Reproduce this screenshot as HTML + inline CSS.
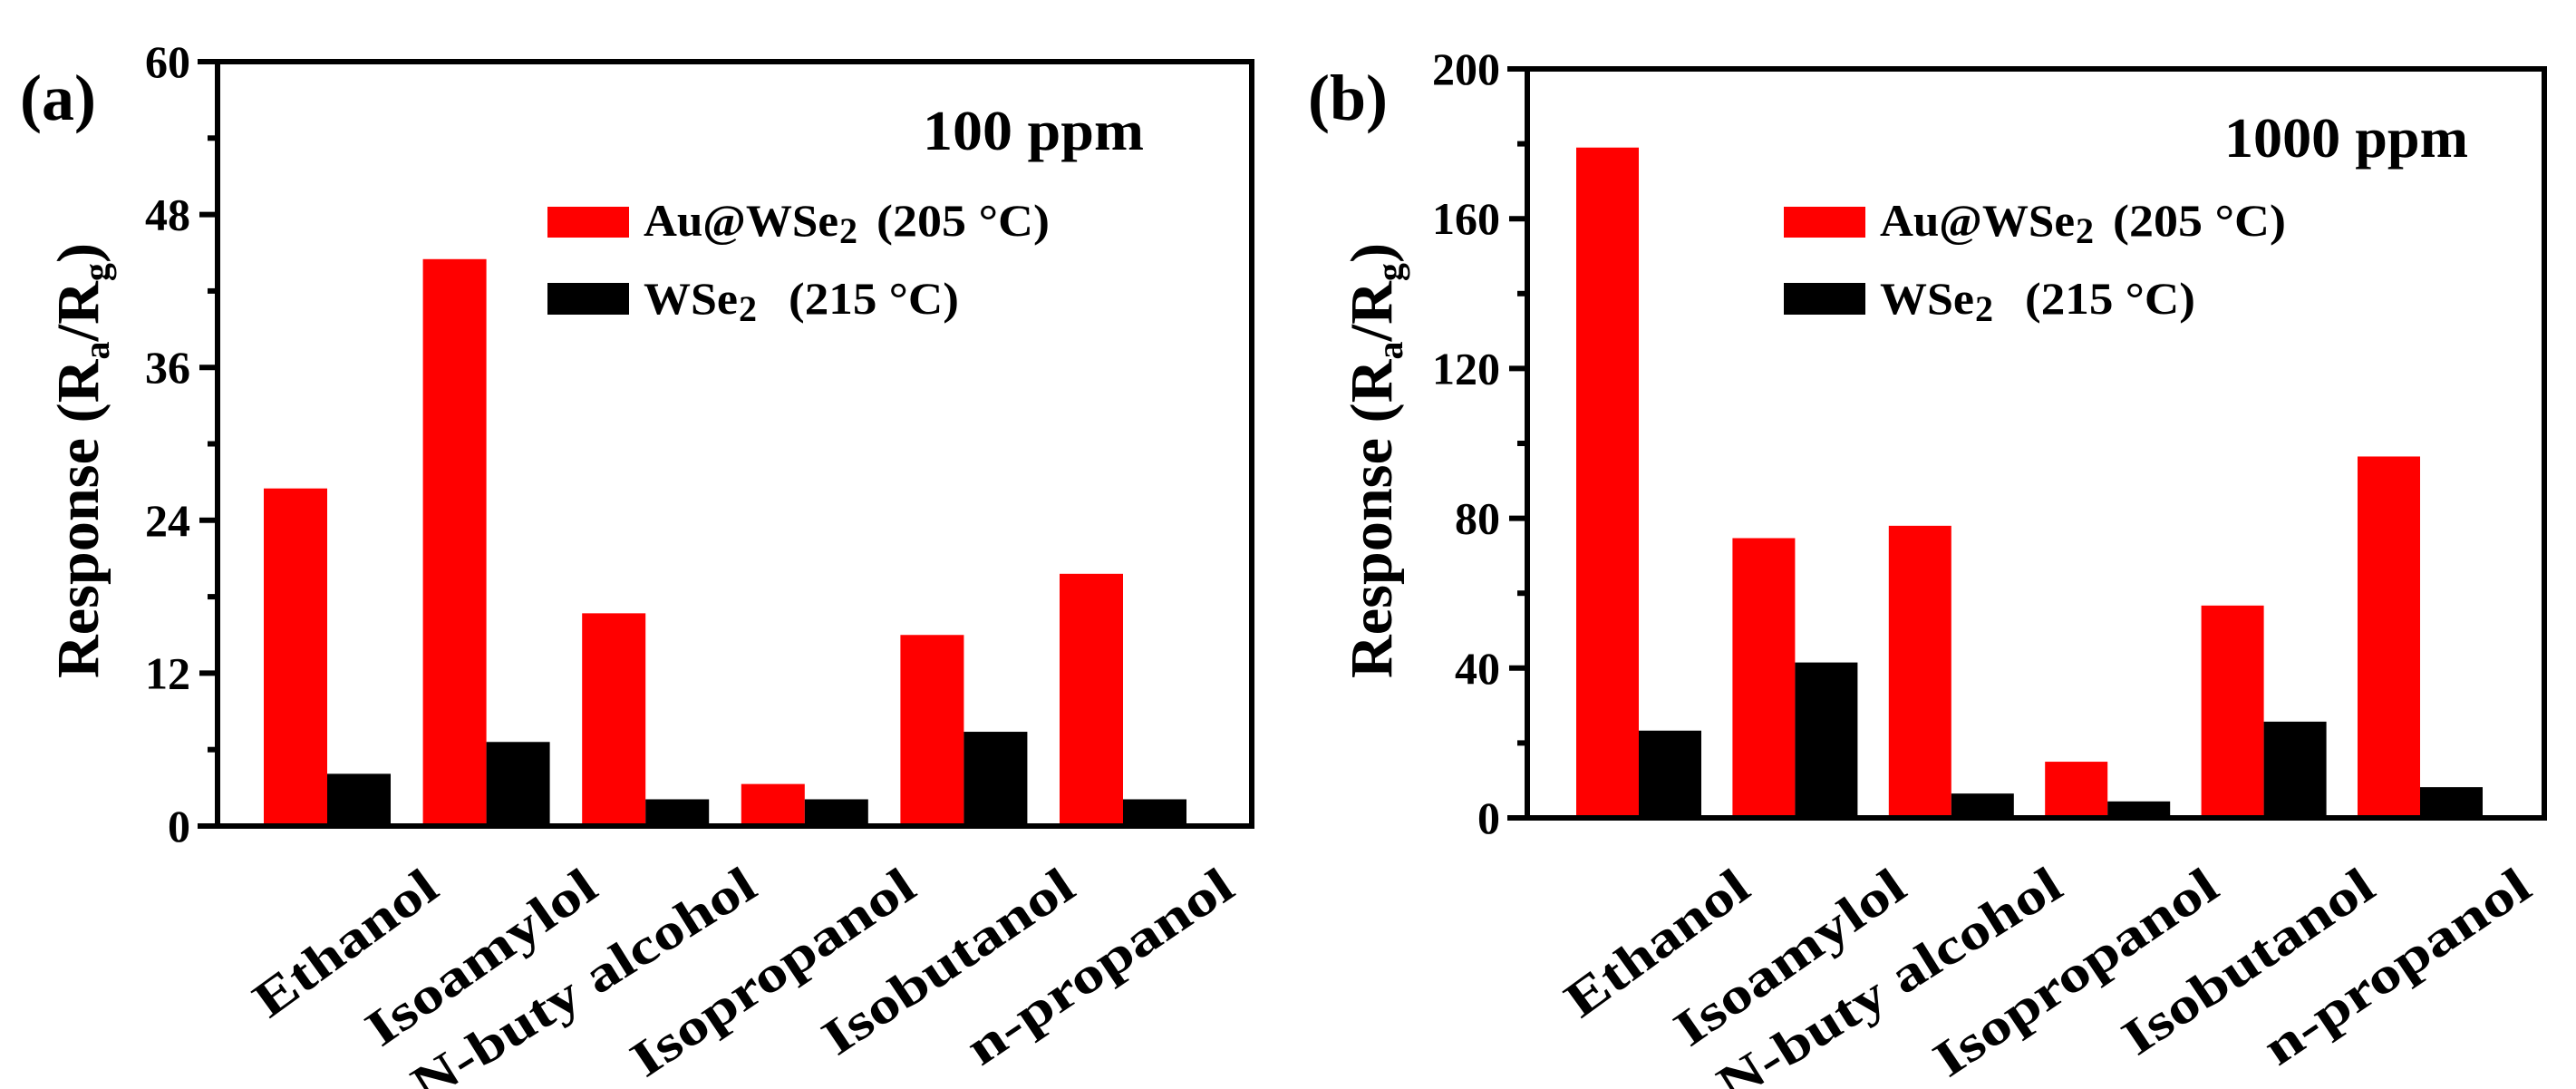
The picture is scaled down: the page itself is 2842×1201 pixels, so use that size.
<!DOCTYPE html>
<html><head><meta charset="utf-8"><style>
html,body{margin:0;padding:0;background:#fff;}
svg{display:block;}
text{font-family:"Liberation Serif",serif;font-weight:bold;fill:#000;}
</style></head><body>
<svg id="chart" width="2842" height="1201" viewBox="0 0 2842 1201" xmlns="http://www.w3.org/2000/svg"></svg>
<script>
const categories = ["Ethanol","Isoamylol","N-buty alcohol","Isopropanol","Isobutanol","n-propanol"];
const auA = [26.5,44.5,16.7,3.3,15.0,19.8];
const wseA = [4.1,6.6,2.1,2.1,7.4,2.1];
const ticksA = [0,12,24,36,48,60];
const auB = [179,74.7,78,15,56.7,96.5];
const wseB = [23.3,41.5,6.5,4.4,25.7,8.2];
const ticksB = [0,40,80,120,160,200];
const labelLens = [235,296,435,364,321,341];
const labelAngles = [36,35,32,34,34,34];

const svg = document.getElementById('chart');
const NS = "http://www.w3.org/2000/svg";
function mk(tag, attrs, parent){
  const e = document.createElementNS(NS, tag);
  for (const k in attrs) e.setAttribute(k, attrs[k]);
  (parent||svg).appendChild(e);
  return e;
}
function txt(s, attrs, parent){ const t = mk('text', attrs, parent); t.textContent = s; return t; }

function panel(cfg){
  const g = mk('g', {});
  
  
  const {L,R,T,B,max,ticks,red,black,x0,step,bw} = cfg;
  const y = v => B - (v/max)*(B-T);
  for (let i=0;i<categories.length;i++){
    const xs = x0 + i*step;
    const r = mk('rect',{x:xs,y:y(red[i]),width:bw,height:B-y(red[i]),fill:'#ff0000'},g);
    
    
    const b = mk('rect',{x:xs+bw,y:y(black[i]),width:bw,height:B-y(black[i]),fill:'#000'},g);
    
    
    const cx = xs + bw;
    const lb = txt(categories[i],{x:cx+126,y:986,'font-size':56,'text-anchor':'end',textLength:labelLens[i],lengthAdjust:'spacingAndGlyphs',transform:`rotate(-${labelAngles[i]} ${cx+126} 986)`},g);
    
    
  }
  const fr = mk('path',{d:`M${L-22} ${T} H${R} V${B} H${L-22} M${L} ${T} V${B}`,stroke:'#000','stroke-width':6,fill:'none'},g);
  
  
  for (let k=0;k<ticks.length;k++){
    const yy = y(ticks[k]);
    mk('line',{x1:L-20,x2:L,y1:yy,y2:yy,stroke:'#000','stroke-width':6},g);
    const tl = txt(String(ticks[k]),{x:L-30,y:yy+17,'font-size':50,'text-anchor':'end'},g);
    
    
    if (k<ticks.length-1){
      const ym = y((ticks[k]+ticks[k+1])/2);
      mk('line',{x1:L-11,x2:L,y1:ym,y2:ym,stroke:'#000','stroke-width':6},g);
    }
  }
  const yt = txt('',{x:0,y:0,'font-size':66,'text-anchor':'middle',transform:`translate(${cfg.titleX} 508) rotate(-90)`},g);
  
  
  yt.innerHTML = 'Response (R<tspan font-size="40" dy="12">a</tspan><tspan dy="-12">/R</tspan><tspan font-size="40" dy="12">g</tspan><tspan dy="-12">)</tspan>';
  yt.setAttribute('textLength', 480);
  const pl = txt(cfg.letter,{x:cfg.letterX,y:132,'font-size':72},g);
  
  
  const cc = txt(cfg.conc,{x:cfg.concX,y:cfg.concY,'font-size':62,textLength:cfg.concW,lengthAdjust:'spacingAndGlyphs'},g);
  
  
  const lx = cfg.legX;
  const l1 = mk('g',{},g);
  
  
  mk('rect',{x:lx,y:228,width:90,height:34,fill:'#ff0000'},l1);
  txt('Au@WSe',{x:lx+106,y:260,'font-size':50,textLength:215,lengthAdjust:'spacingAndGlyphs'},l1);
  txt('2',{x:lx+322,y:268,'font-size':40},l1);
  txt('(205 °C)',{x:lx+363,y:260,'font-size':50,textLength:191,lengthAdjust:'spacingAndGlyphs'},l1);
  const l2 = mk('g',{},g);
  
  
  mk('rect',{x:lx,y:312,width:90,height:35,fill:'#000'},l2);
  txt('WSe',{x:lx+106,y:346,'font-size':50,textLength:104,lengthAdjust:'spacingAndGlyphs'},l2);
  txt('2',{x:lx+211,y:354,'font-size':40},l2);
  txt('(215 °C)',{x:lx+266,y:346,'font-size':50,textLength:188,lengthAdjust:'spacingAndGlyphs'},l2);
}

panel({name:'panel-a',L:240,R:1381,T:68,B:911,max:60,ticks:ticksA,red:auA,black:wseA,x0:291,step:175.6,bw:70,
  titleX:108,letter:'(a)',letterX:22,conc:'100 ppm',concX:1018,concY:165,concW:244,legX:604});
panel({name:'panel-b',L:1685,R:2807,T:76,B:902,max:200,ticks:ticksB,red:auB,black:wseB,x0:1739,step:172.4,bw:69,
  titleX:1535,letter:'(b)',letterX:1443,conc:'1000 ppm',concX:2454,concY:173,concW:269,legX:1968});
</script>
</body></html>
